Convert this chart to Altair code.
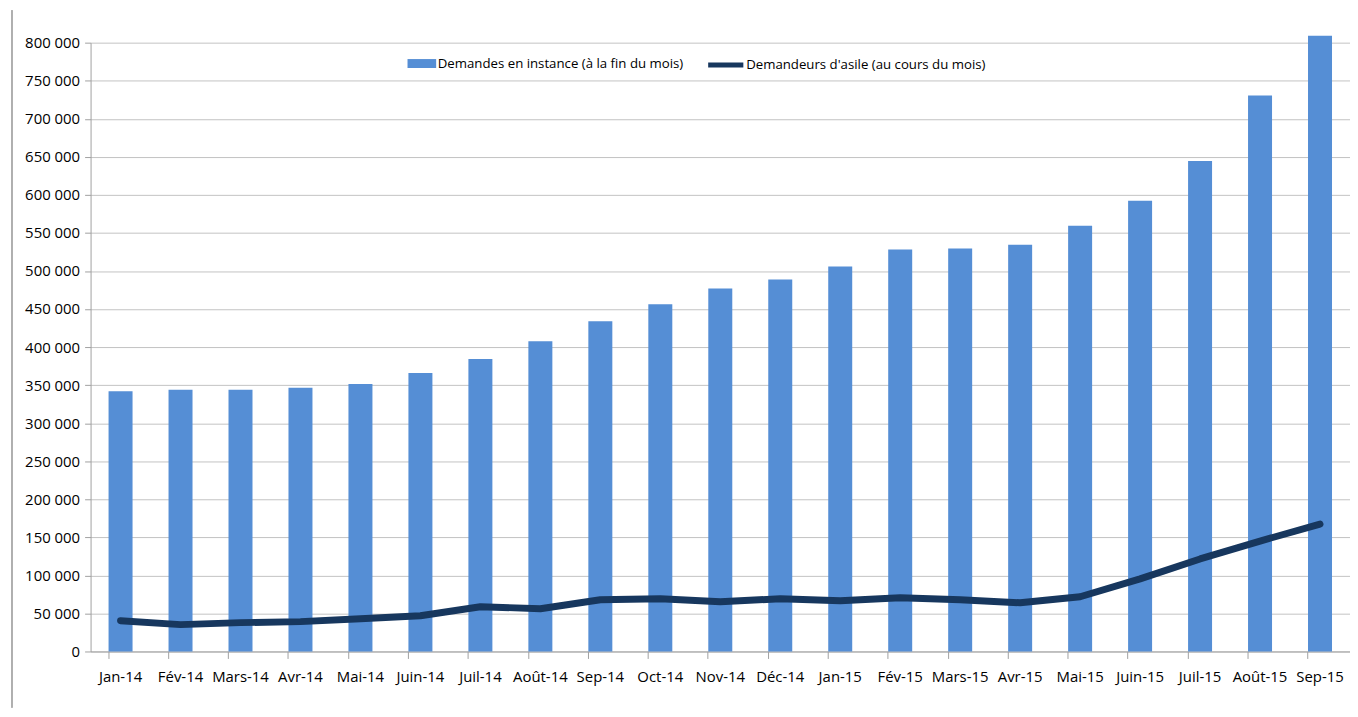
import altair as alt
import pandas as pd

months = ["Jan-14", "Fév-14", "Mars-14", "Avr-14", "Mai-14", "Juin-14", "Juil-14",
          "Août-14", "Sep-14", "Oct-14", "Nov-14", "Déc-14", "Jan-15", "Fév-15",
          "Mars-15", "Avr-15", "Mai-15", "Juin-15", "Juil-15", "Août-15", "Sep-15"]
pending = [342000, 343800, 343800, 346400, 351600, 366000, 384300,
           407800, 434000, 456200, 477100, 488900, 505900, 528100,
           529400, 534600, 559500, 592200, 644400, 730700, 809000]
applicants = [40500, 35300, 37900, 39200, 43100, 47000, 58800,
              56200, 68000, 69300, 65400, 69300, 66700, 70600,
              68000, 64000, 71900, 95400, 121600, 145100, 167300]

bar_name = "Demandes en instance (à la fin du mois)"
line_name = "Demandeurs d'asile (au cours du mois)"

df = pd.DataFrame({"mois": months, "pending": pending, "applicants": applicants,
                   "s1": bar_name, "s2": line_name})

FONT = "Open Sans"
GRID = "#c3c3c3"
AX = "#a0a0a0"
xscale = alt.Scale(domain=months, paddingInner=0.6, paddingOuter=0.3)
yscale = alt.Scale(domain=[0, 800000], nice=False)
yaxis = alt.Axis(values=list(range(0, 800001, 50000)), title=None,
                 labelExpr="datum.value == 0 ? '0' : floor(datum.value/1000) + ' 000'",
                 grid=True, gridColor=GRID, domainColor=AX, tickColor=AX,
                 tickSize=6, labelFontSize=15, labelFont=FONT, labelColor="#000000",
                 labelPadding=5, labelOverlap=False)

bars = alt.Chart(df).mark_bar(color="#558ed5").encode(
    x=alt.X("mois:N", scale=xscale, sort=months,
            axis=alt.Axis(title=None, ticks=False, labelAngle=0, labelFontSize=15,
                          labelFont=FONT, labelColor="#000000", domainColor=AX,
                          labelPadding=18, orient="bottom")),
    y=alt.Y("pending:Q", scale=yscale, axis=yaxis),
    fill=alt.Fill("s1:N", scale=alt.Scale(domain=[bar_name], range=["#558ed5"]),
                  legend=alt.Legend(title=None, orient="none", legendX=324, legendY=12,
                                    symbolType="M-1.6,-0.5H1.6V0.5H-1.6Z", symbolSize=324,
                                    labelFont=FONT, labelFontSize=13.3, labelColor="#000000",
                                    labelLimit=0, labelOffset=7, symbolStrokeWidth=0)),
)

ticks_layer = alt.Chart(df).mark_bar(opacity=0).encode(
    x=alt.X("mois:N", scale=xscale, sort=months,
            axis=alt.Axis(title=None, labels=False, ticks=True, bandPosition=0, tickSize=7,
                          tickColor=AX, domain=False, grid=False, orient="bottom")),
    y=alt.Y("pending:Q", scale=yscale, axis=yaxis),
)

line = alt.Chart(df).mark_line(strokeWidth=7, strokeCap="round", strokeJoin="round").encode(
    x=alt.X("mois:N", scale=xscale, sort=months, axis=None),
    y=alt.Y("applicants:Q", scale=yscale, axis=yaxis),
    stroke=alt.Stroke("s2:N", scale=alt.Scale(domain=[line_name], range=["#17375e"]),
                      legend=alt.Legend(title=None, orient="none", legendX=618, legendY=2,
                                        symbolType="stroke", symbolSize=1250,
                                        symbolStrokeWidth=5, labelOffset=0,
                                        labelFont=FONT, labelFontSize=13.3, labelColor="#000000",
                                        labelLimit=0)),
)

border = alt.Chart(df).mark_rule(color="#b0b0b0", strokeWidth=1).encode(
    x=alt.value(-79), y=alt.value(-32), y2=alt.value(668)
)

chart = alt.layer(border, ticks_layer, bars, line).resolve_axis(x="independent").resolve_legend(
    fill="independent", stroke="independent"
).properties(
    width=1266, height=612, background="white",
    padding={"left": 3, "top": 0, "right": 0, "bottom": 0}
).configure_view(stroke=None)

chart.save("out.html", embed_options={"renderer": "svg", "actions": False})
